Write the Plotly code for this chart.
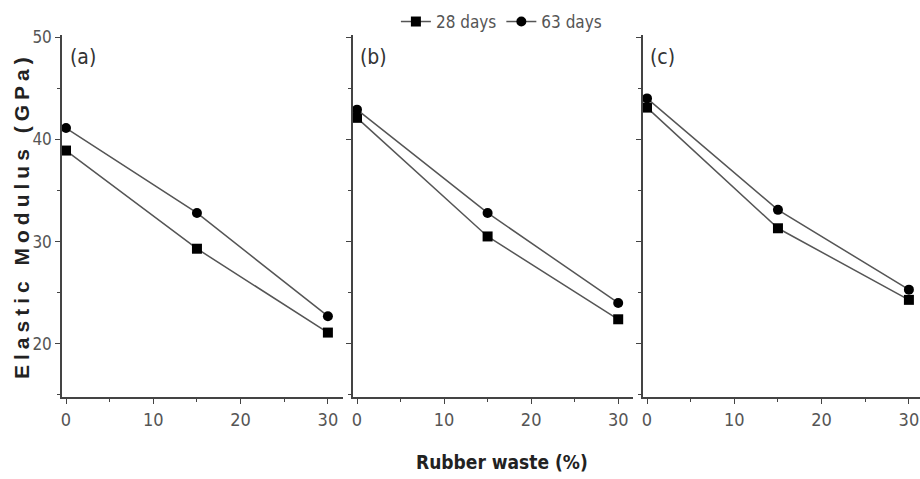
import plotly.graph_objects as go

rubber = [0, 15, 30]
panels = ["(a)", "(b)", "(c)"]
d28 = {
    "(a)": [38.9, 29.3, 21.1],
    "(b)": [42.1, 30.5, 22.4],
    "(c)": [43.1, 31.3, 24.3],
}
d63 = {
    "(a)": [41.1, 32.8, 22.7],
    "(b)": [42.9, 32.8, 24.0],
    "(c)": [44.0, 33.1, 25.3],
}
series_names = ["28 days", "63 days"]
y_ticks = [20, 30, 40, 50]
x_ticks = [0, 10, 20, 30]

NARROW = "Liberation Sans Narrow, Arial Narrow, DejaVu Sans Condensed, sans-serif"
GRAY = "#555555"
AX = "#444444"

W, H = 920, 479
doms = [(62, 343), (353, 633), (643, 920)]
xranges = [[-0.46, 31.73], [-0.46, 31.7], [-0.46, 31.27]]

fig = go.Figure()
for i, p in enumerate(panels):
    xa = "x" if i == 0 else f"x{i+1}"
    ya = "y" if i == 0 else f"y{i+1}"
    fig.add_trace(go.Scatter(
        x=rubber, y=d28[p], mode="lines+markers", name=series_names[0],
        xaxis=xa, yaxis=ya, showlegend=(i == 0),
        line=dict(color=GRAY, width=1.5),
        marker=dict(symbol="square", size=10, color="black"),
    ))
    fig.add_trace(go.Scatter(
        x=rubber, y=d63[p], mode="lines+markers", name=series_names[1],
        xaxis=xa, yaxis=ya, showlegend=(i == 0),
        line=dict(color=GRAY, width=1.5),
        marker=dict(symbol="circle", size=10, color="black"),
    ))

layout = dict(
    width=W, height=H,
    margin=dict(l=0, r=0, t=35, b=82),
    paper_bgcolor="white", plot_bgcolor="white",
    showlegend=True,
    legend=dict(orientation="h", x=0.545, xanchor="center", y=1.036, yanchor="middle",
                font=dict(family=NARROW, size=17, color=GRAY),
                bgcolor="rgba(0,0,0,0)", itemwidth=30, tracegroupgap=0),
)
for i in range(3):
    sx = "xaxis" if i == 0 else f"xaxis{i+1}"
    sy = "yaxis" if i == 0 else f"yaxis{i+1}"
    ya_ref = "y" if i == 0 else f"y{i+1}"
    xa_ref = "x" if i == 0 else f"x{i+1}"
    layout[sx] = dict(
        domain=[doms[i][0] / W, doms[i][1] / W], range=xranges[i], anchor=ya_ref,
        tickvals=x_ticks, ticks="outside", ticklen=5, tickwidth=1.2, tickcolor=AX,
        showline=True, linecolor=AX, linewidth=2, showgrid=False, zeroline=False,
        tickfont=dict(family=NARROW, size=18, color=GRAY),
        minor=dict(dtick=5, tick0=0, ticks="outside", ticklen=3, tickcolor=AX, showgrid=False),
    )
    layout[sy] = dict(
        domain=[0, 1], range=[14.8, 50.2], anchor=xa_ref,
        tickvals=y_ticks, ticks="outside", ticklen=5, tickwidth=1.2, tickcolor=AX,
        showline=True, linecolor=AX, linewidth=1.5, showgrid=False, zeroline=False,
        showticklabels=(i == 0),
        tickfont=dict(family=NARROW, size=17, color=GRAY),
        minor=dict(dtick=5, tick0=0, ticks="outside", ticklen=3, tickcolor=AX, showgrid=False),
    )
fig.update_layout(**layout)

anns = []
label_x = [68, 358, 648]
for i, p in enumerate(panels):
    anns.append(dict(text=p, x=label_x[i] / W, y=1 - (57 - 35) / 362, xref="paper", yref="paper",
                     xanchor="left", yanchor="middle", showarrow=False,
                     font=dict(family=NARROW, size=21, color="#333333")))
anns.append(dict(text='<span style="letter-spacing:5px">Elastic Modulus (GPa)</span>',
                 x=21 / W, y=1 - (216 - 35) / 362, xref="paper", yref="paper",
                 xanchor="center", yanchor="middle", textangle=-90, showarrow=False,
                 font=dict(family="Liberation Sans, Arial, sans-serif", size=21, color="#222222",
                           weight="bold")))
anns.append(dict(text="Rubber waste (%)", x=502 / W, y=1 - (462 - 35) / 362,
                 xref="paper", yref="paper", xanchor="center", yanchor="middle", showarrow=False,
                 font=dict(family=NARROW, size=19, color="#222222", weight="bold")))
fig.update_layout(annotations=anns)

fig.write_html("out.html")
